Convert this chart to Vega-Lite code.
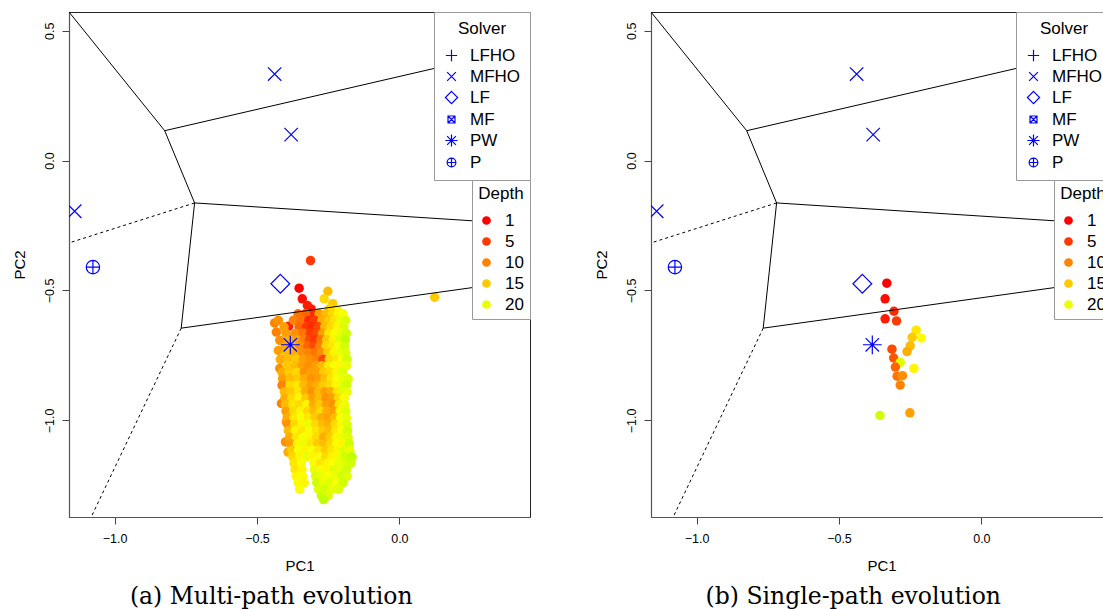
{
"$schema":"https://vega.github.io/schema/vega-lite/v6.json",
"background":"white",
"padding":{"left":11,"top":11,"right":0,"bottom":0},
"spacing":62,
"datasets":{
"solvers":[
{"x":-0.438,"y":0.333,"solver":"MFHO"},{"x":-0.380,"y":0.100,"solver":"MFHO"},{"x":-1.140,"y":-0.195,"solver":"MFHO"},
{"x":-1.076,"y":-0.410,"solver":"P"},{"x":-0.418,"y":-0.474,"solver":"LF"},{"x":-0.383,"y":-0.709,"solver":"PW"}],
"voronoi":[
{"x":-1.16,"y":0.572,"x2":-0.824,"y2":0.115,"kind":"solid"},
{"x":-0.824,"y":0.115,"x2":0.4586,"y2":0.44,"kind":"solid"},
{"x":-0.824,"y":0.115,"x2":-0.719,"y2":-0.163,"kind":"solid"},
{"x":-0.719,"y":-0.163,"x2":0.4586,"y2":-0.246,"kind":"solid"},
{"x":-0.719,"y":-0.163,"x2":-1.16,"y2":-0.317,"kind":"dashed"},
{"x":-0.719,"y":-0.163,"x2":-0.766,"y2":-0.645,"kind":"solid"},
{"x":-0.766,"y":-0.645,"x2":0.4586,"y2":-0.458,"kind":"solid"},
{"x":-0.766,"y":-0.645,"x2":-1.082,"y2":-1.372,"kind":"dashed"}],
"single":[
{"x":-0.332,"y":-0.472,"d":1},{"x":-0.338,"y":-0.532,"d":2},{"x":-0.307,"y":-0.580,"d":4},{"x":-0.338,"y":-0.609,"d":3},
{"x":-0.298,"y":-0.617,"d":5},{"x":-0.229,"y":-0.653,"d":17},{"x":-0.211,"y":-0.683,"d":19},{"x":-0.243,"y":-0.680,"d":15},
{"x":-0.250,"y":-0.713,"d":14},{"x":-0.261,"y":-0.735,"d":13},{"x":-0.314,"y":-0.726,"d":6},{"x":-0.308,"y":-0.760,"d":7},
{"x":-0.285,"y":-0.777,"d":21},{"x":-0.302,"y":-0.795,"d":8},{"x":-0.237,"y":-0.800,"d":18},{"x":-0.296,"y":-0.830,"d":9},
{"x":-0.277,"y":-0.828,"d":11},{"x":-0.285,"y":-0.864,"d":10},{"x":-0.356,"y":-0.981,"d":22},{"x":-0.251,"y":-0.971,"d":12}],
"multi":[
{"x":-0.312,"y":-0.385,"d":5},{"x":0.124,"y":-0.526,"d":15},
{"x":-0.352,"y":-0.491,"d":1},{"x":-0.341,"y":-0.532,"d":2},{"x":-0.323,"y":-0.558,"d":3},{"x":-0.310,"y":-0.571,"d":3},{"x":-0.301,"y":-0.590,"d":4},
{"x":-0.251,"y":-0.503,"d":14},{"x":-0.264,"y":-0.532,"d":16},{"x":-0.234,"y":-0.551,"d":15},{"x":-0.216,"y":-0.577,"d":18},{"x":-0.245,"y":-0.570,"d":16},
{"x":-0.438,"y":-0.625,"d":10},{"x":-0.432,"y":-0.660,"d":10},{"x":-0.420,"y":-0.692,"d":11},{"x":-0.425,"y":-0.731,"d":12},{"x":-0.389,"y":-0.638,"d":3},{"x":-0.420,"y":-0.800,"d":11},
{"x":-0.414,"y":-0.935,"d":10},{"x":-0.397,"y":-1.006,"d":12},{"x":-0.400,"y":-1.083,"d":11},{"x":-0.391,"y":-1.122,"d":13},
{"x":-0.356,"y":-0.59,"d":9},{"x":-0.330,"y":-0.59,"d":8},{"x":-0.282,"y":-0.59,"d":12},{"x":-0.258,"y":-0.59,"d":14},{"x":-0.236,"y":-0.59,"d":16},{"x":-0.214,"y":-0.59,"d":18},{"x":-0.198,"y":-0.59,"d":19},
{"x":-0.425,"y":-0.615,"d":11},{"x":-0.372,"y":-0.615,"d":10},{"x":-0.345,"y":-0.615,"d":9},{"x":-0.318,"y":-0.615,"d":4},{"x":-0.298,"y":-0.615,"d":5},{"x":-0.272,"y":-0.615,"d":13},{"x":-0.248,"y":-0.615,"d":15},{"x":-0.226,"y":-0.615,"d":17},{"x":-0.205,"y":-0.615,"d":20},{"x":-0.188,"y":-0.615,"d":21},
{"x":-0.405,"y":-0.64,"d":12},{"x":-0.352,"y":-0.64,"d":8},{"x":-0.326,"y":-0.64,"d":5},{"x":-0.305,"y":-0.64,"d":4},{"x":-0.285,"y":-0.64,"d":6},{"x":-0.262,"y":-0.64,"d":14},{"x":-0.240,"y":-0.64,"d":16},{"x":-0.218,"y":-0.64,"d":18},{"x":-0.195,"y":-0.64,"d":21},
{"x":-0.398,"y":-0.665,"d":12},{"x":-0.366,"y":-0.665,"d":11},{"x":-0.338,"y":-0.665,"d":9},{"x":-0.312,"y":-0.665,"d":5},{"x":-0.292,"y":-0.665,"d":6},{"x":-0.270,"y":-0.665,"d":12},{"x":-0.248,"y":-0.665,"d":17},{"x":-0.226,"y":-0.665,"d":19},{"x":-0.204,"y":-0.665,"d":20},{"x":-0.186,"y":-0.665,"d":22},
{"x":-0.390,"y":-0.69,"d":13},{"x":-0.362,"y":-0.69,"d":12},{"x":-0.335,"y":-0.69,"d":10},{"x":-0.316,"y":-0.69,"d":6},{"x":-0.298,"y":-0.69,"d":5},{"x":-0.276,"y":-0.69,"d":9},{"x":-0.256,"y":-0.69,"d":15},{"x":-0.232,"y":-0.69,"d":18},{"x":-0.210,"y":-0.69,"d":21},{"x":-0.190,"y":-0.69,"d":23},
{"x":-0.400,"y":-0.715,"d":13},{"x":-0.372,"y":-0.715,"d":14},{"x":-0.348,"y":-0.715,"d":11},{"x":-0.322,"y":-0.715,"d":8},{"x":-0.300,"y":-0.715,"d":6},{"x":-0.280,"y":-0.715,"d":10},{"x":-0.258,"y":-0.715,"d":16},{"x":-0.236,"y":-0.715,"d":17},{"x":-0.214,"y":-0.715,"d":19},{"x":-0.193,"y":-0.715,"d":22},
{"x":-0.396,"y":-0.74,"d":14},{"x":-0.368,"y":-0.74,"d":13},{"x":-0.340,"y":-0.74,"d":11},{"x":-0.318,"y":-0.74,"d":10},{"x":-0.296,"y":-0.74,"d":9},{"x":-0.274,"y":-0.74,"d":11},{"x":-0.252,"y":-0.74,"d":15},{"x":-0.230,"y":-0.74,"d":18},{"x":-0.208,"y":-0.74,"d":20},{"x":-0.188,"y":-0.74,"d":21},
{"x":-0.418,"y":-0.765,"d":13},{"x":-0.392,"y":-0.765,"d":14},{"x":-0.364,"y":-0.765,"d":15},{"x":-0.338,"y":-0.765,"d":12},{"x":-0.312,"y":-0.765,"d":11},{"x":-0.290,"y":-0.765,"d":10},{"x":-0.268,"y":-0.765,"d":6},{"x":-0.246,"y":-0.765,"d":16},{"x":-0.224,"y":-0.765,"d":17},{"x":-0.202,"y":-0.765,"d":19},{"x":-0.184,"y":-0.765,"d":22},
{"x":-0.394,"y":-0.79,"d":15},{"x":-0.366,"y":-0.79,"d":14},{"x":-0.342,"y":-0.79,"d":12},{"x":-0.318,"y":-0.79,"d":11},{"x":-0.294,"y":-0.79,"d":12},{"x":-0.272,"y":-0.79,"d":14},{"x":-0.250,"y":-0.79,"d":17},{"x":-0.228,"y":-0.79,"d":19},{"x":-0.206,"y":-0.79,"d":18},{"x":-0.186,"y":-0.79,"d":20},
{"x":-0.412,"y":-0.815,"d":13},{"x":-0.388,"y":-0.815,"d":15},{"x":-0.360,"y":-0.815,"d":16},{"x":-0.334,"y":-0.815,"d":11},{"x":-0.310,"y":-0.815,"d":12},{"x":-0.288,"y":-0.815,"d":12},{"x":-0.266,"y":-0.815,"d":15},{"x":-0.244,"y":-0.815,"d":16},{"x":-0.222,"y":-0.815,"d":18},{"x":-0.200,"y":-0.815,"d":21},
{"x":-0.410,"y":-0.84,"d":12},{"x":-0.384,"y":-0.84,"d":14},{"x":-0.358,"y":-0.84,"d":15},{"x":-0.332,"y":-0.84,"d":13},{"x":-0.308,"y":-0.84,"d":11},{"x":-0.284,"y":-0.84,"d":12},{"x":-0.262,"y":-0.84,"d":14},{"x":-0.240,"y":-0.84,"d":17},{"x":-0.218,"y":-0.84,"d":19},{"x":-0.196,"y":-0.84,"d":20},{"x":-0.180,"y":-0.84,"d":21},
{"x":-0.412,"y":-0.865,"d":10},{"x":-0.385,"y":-0.865,"d":16},{"x":-0.360,"y":-0.865,"d":17},{"x":-0.336,"y":-0.865,"d":14},{"x":-0.312,"y":-0.865,"d":12},{"x":-0.290,"y":-0.865,"d":13},{"x":-0.268,"y":-0.865,"d":15},{"x":-0.246,"y":-0.865,"d":16},{"x":-0.224,"y":-0.865,"d":18},{"x":-0.204,"y":-0.865,"d":20},{"x":-0.186,"y":-0.865,"d":22},
{"x":-0.404,"y":-0.89,"d":14},{"x":-0.380,"y":-0.89,"d":15},{"x":-0.354,"y":-0.89,"d":17},{"x":-0.330,"y":-0.89,"d":13},{"x":-0.306,"y":-0.89,"d":11},{"x":-0.284,"y":-0.89,"d":14},{"x":-0.262,"y":-0.89,"d":12},{"x":-0.240,"y":-0.89,"d":13},{"x":-0.218,"y":-0.89,"d":17},{"x":-0.198,"y":-0.89,"d":21},{"x":-0.184,"y":-0.89,"d":20},
{"x":-0.402,"y":-0.915,"d":13},{"x":-0.378,"y":-0.915,"d":16},{"x":-0.352,"y":-0.915,"d":18},{"x":-0.328,"y":-0.915,"d":15},{"x":-0.304,"y":-0.915,"d":12},{"x":-0.282,"y":-0.915,"d":14},{"x":-0.258,"y":-0.915,"d":11},{"x":-0.236,"y":-0.915,"d":12},{"x":-0.214,"y":-0.915,"d":16},{"x":-0.194,"y":-0.915,"d":19},
{"x":-0.400,"y":-0.94,"d":14},{"x":-0.374,"y":-0.94,"d":17},{"x":-0.350,"y":-0.94,"d":16},{"x":-0.326,"y":-0.94,"d":18},{"x":-0.302,"y":-0.94,"d":13},{"x":-0.280,"y":-0.94,"d":15},{"x":-0.256,"y":-0.94,"d":12},{"x":-0.232,"y":-0.94,"d":11},{"x":-0.212,"y":-0.94,"d":17},{"x":-0.192,"y":-0.94,"d":20},
{"x":-0.398,"y":-0.965,"d":12},{"x":-0.372,"y":-0.965,"d":16},{"x":-0.348,"y":-0.965,"d":18},{"x":-0.322,"y":-0.965,"d":16},{"x":-0.300,"y":-0.965,"d":14},{"x":-0.276,"y":-0.965,"d":16},{"x":-0.254,"y":-0.965,"d":13},{"x":-0.230,"y":-0.965,"d":12},{"x":-0.208,"y":-0.965,"d":18},{"x":-0.188,"y":-0.965,"d":21},
{"x":-0.394,"y":-0.99,"d":13},{"x":-0.370,"y":-0.99,"d":17},{"x":-0.344,"y":-0.99,"d":19},{"x":-0.320,"y":-0.99,"d":17},{"x":-0.296,"y":-0.99,"d":15},{"x":-0.274,"y":-0.99,"d":13},{"x":-0.250,"y":-0.99,"d":12},{"x":-0.228,"y":-0.99,"d":14},{"x":-0.206,"y":-0.99,"d":19},{"x":-0.186,"y":-0.99,"d":20},
{"x":-0.392,"y":-1.015,"d":11},{"x":-0.368,"y":-1.015,"d":16},{"x":-0.342,"y":-1.015,"d":18},{"x":-0.318,"y":-1.015,"d":20},{"x":-0.294,"y":-1.015,"d":16},{"x":-0.270,"y":-1.015,"d":14},{"x":-0.248,"y":-1.015,"d":13},{"x":-0.226,"y":-1.015,"d":16},{"x":-0.204,"y":-1.015,"d":18},{"x":-0.184,"y":-1.015,"d":21},
{"x":-0.390,"y":-1.04,"d":14},{"x":-0.366,"y":-1.04,"d":18},{"x":-0.340,"y":-1.04,"d":17},{"x":-0.316,"y":-1.04,"d":19},{"x":-0.292,"y":-1.04,"d":17},{"x":-0.268,"y":-1.04,"d":15},{"x":-0.246,"y":-1.04,"d":14},{"x":-0.224,"y":-1.04,"d":17},{"x":-0.202,"y":-1.04,"d":19},{"x":-0.182,"y":-1.04,"d":22},
{"x":-0.386,"y":-1.065,"d":13},{"x":-0.362,"y":-1.065,"d":17},{"x":-0.338,"y":-1.065,"d":19},{"x":-0.314,"y":-1.065,"d":18},{"x":-0.290,"y":-1.065,"d":16},{"x":-0.266,"y":-1.065,"d":13},{"x":-0.244,"y":-1.065,"d":15},{"x":-0.222,"y":-1.065,"d":18},{"x":-0.200,"y":-1.065,"d":20},{"x":-0.180,"y":-1.065,"d":21},
{"x":-0.382,"y":-1.09,"d":12},{"x":-0.358,"y":-1.09,"d":18},{"x":-0.334,"y":-1.09,"d":20},{"x":-0.310,"y":-1.09,"d":17},{"x":-0.288,"y":-1.09,"d":15},{"x":-0.264,"y":-1.09,"d":14},{"x":-0.242,"y":-1.09,"d":16},{"x":-0.220,"y":-1.09,"d":19},{"x":-0.198,"y":-1.09,"d":18},{"x":-0.176,"y":-1.09,"d":22},
{"x":-0.378,"y":-1.115,"d":15},{"x":-0.354,"y":-1.115,"d":19},{"x":-0.330,"y":-1.115,"d":18},{"x":-0.306,"y":-1.115,"d":19},{"x":-0.284,"y":-1.115,"d":17},{"x":-0.260,"y":-1.115,"d":15},{"x":-0.238,"y":-1.115,"d":17},{"x":-0.216,"y":-1.115,"d":18},{"x":-0.194,"y":-1.115,"d":21},{"x":-0.174,"y":-1.115,"d":20},
{"x":-0.374,"y":-1.14,"d":16},{"x":-0.350,"y":-1.14,"d":18},{"x":-0.326,"y":-1.14,"d":20},{"x":-0.304,"y":-1.14,"d":18},{"x":-0.280,"y":-1.14,"d":19},{"x":-0.258,"y":-1.14,"d":16},{"x":-0.236,"y":-1.14,"d":18},{"x":-0.212,"y":-1.14,"d":20},{"x":-0.190,"y":-1.14,"d":22},{"x":-0.166,"y":-1.14,"d":23},
{"x":-0.370,"y":-1.165,"d":17},{"x":-0.344,"y":-1.165,"d":19},{"x":-0.300,"y":-1.165,"d":19},{"x":-0.278,"y":-1.165,"d":17},{"x":-0.254,"y":-1.165,"d":18},{"x":-0.232,"y":-1.165,"d":19},{"x":-0.210,"y":-1.165,"d":20},{"x":-0.188,"y":-1.165,"d":21},{"x":-0.170,"y":-1.165,"d":22},
{"x":-0.366,"y":-1.19,"d":17},{"x":-0.342,"y":-1.19,"d":18},{"x":-0.298,"y":-1.19,"d":20},{"x":-0.274,"y":-1.19,"d":19},{"x":-0.250,"y":-1.19,"d":18},{"x":-0.228,"y":-1.19,"d":21},{"x":-0.206,"y":-1.19,"d":20},{"x":-0.186,"y":-1.19,"d":22},
{"x":-0.362,"y":-1.215,"d":18},{"x":-0.340,"y":-1.215,"d":19},{"x":-0.294,"y":-1.215,"d":21},{"x":-0.270,"y":-1.215,"d":20},{"x":-0.248,"y":-1.215,"d":19},{"x":-0.224,"y":-1.215,"d":20},{"x":-0.202,"y":-1.215,"d":22},{"x":-0.184,"y":-1.215,"d":21},
{"x":-0.356,"y":-1.24,"d":19},{"x":-0.334,"y":-1.24,"d":18},{"x":-0.290,"y":-1.24,"d":22},{"x":-0.266,"y":-1.24,"d":20},{"x":-0.242,"y":-1.24,"d":21},{"x":-0.220,"y":-1.24,"d":19},{"x":-0.198,"y":-1.24,"d":22},
{"x":-0.350,"y":-1.265,"d":19},{"x":-0.284,"y":-1.265,"d":21},{"x":-0.262,"y":-1.265,"d":22},{"x":-0.238,"y":-1.265,"d":20},{"x":-0.214,"y":-1.265,"d":21},
{"x":-0.274,"y":-1.29,"d":22},{"x":-0.250,"y":-1.29,"d":21},{"x":-0.266,"y":-1.305,"d":23}
]},
"resolve":{"scale":{"x":"independent","y":"independent","fill":"independent","color":"independent","shape":"independent"},"legend":{"fill":"independent","color":"independent","shape":"independent"}},
"hconcat":[
{"width":461,"height":505,
"title":{"text":"(a) Multi-path evolution","orient":"bottom","anchor":"middle","frame":"bounds","offset":11,"font":"DejaVu Serif","fontSize":23.5,"fontWeight":"normal","color":"#000"},
"layer":[
{"data":{"name":"solvers"},"transform":[{"filter":"datum.solver != 'PW'"}],"mark":{"type":"point","filled":false,"size":180,"strokeWidth":1.2,"opacity":1,"clip":true},
"encoding":{
"x":{"field":"x","type":"quantitative","title":"PC1","scale":{"domain":[-1.16,0.4586],"nice":false,"zero":false},"axis":{"values":[-1,-0.5,0],"format":".1f","grid":false,"tickSize":7,"labelPadding":8,"titlePadding":14}},
"y":{"field":"y","type":"quantitative","title":"PC2","scale":{"domain":[-1.372,0.572],"nice":false,"zero":false},"axis":{"values":[-1,-0.5,0,0.5],"format":".1f","grid":false,"tickSize":7,"labelAngle":-90,"labelAlign":"center","labelBaseline":"bottom","labelPadding":6,"titlePadding":16}},
"shape":{"field":"solver","type":"nominal","title":"Solver","scale":{"domain":["LFHO","MFHO","LF","MF","PW","P"],"range":["M-1.3,0L1.3,0M0,-1.3L0,1.3","M-1,-1L1,1M-1,1L1,-1","M0,-1.4L1.4,0L0,1.4L-1.4,0Z","M-0.8,-0.8L0.8,-0.8L0.8,0.8L-0.8,0.8ZM-0.8,-0.8L0.8,0.8M-0.8,0.8L0.8,-0.8","M-1.4,0L1.4,0M0,-1.4L0,1.4M-1,-1L1,1M-1,1L1,-1","M1,0A1,1,0,1,1,-1,0A1,1,0,1,1,1,0ZM-1,0L1,0M0,-1L0,1"]},"legend":{"orient":"top-right"}},
"color":{"field":"solver","type":"nominal","title":"Solver","scale":{"domain":["LFHO","MFHO","LF","MF","PW","P"],"range":["blue","blue","blue","blue","blue","blue"]},"legend":{"orient":"top-right"}}}},
{"data":{"name":"multi"},"mark":{"type":"circle","size":90,"opacity":1,"clip":true},
"encoding":{"x":{"field":"x","type":"quantitative"},"y":{"field":"y","type":"quantitative"},
"fill":{"field":"d","type":"quantitative","title":"Depth","scale":{"domain":[1,30],"range":["#ff0000","hsl(98.6,100%,50%)"],"interpolate":"hsl"},"legend":{"type":"symbol","values":[1,5,10,15,20],"symbolType":"circle","symbolSize":76,"symbolStrokeWidth":0,"orient":"none","legendX":403,"legendY":168,"padding":6}}}},
{"data":{"name":"voronoi"},"transform":[{"filter":"datum.kind == 'solid'"}],"mark":{"type":"rule","color":"black","strokeWidth":1,"clip":true},
"encoding":{"x":{"field":"x","type":"quantitative"},"y":{"field":"y","type":"quantitative"},"x2":{"field":"x2"},"y2":{"field":"y2"}}},
{"data":{"name":"voronoi"},"transform":[{"filter":"datum.kind == 'dashed'"}],"mark":{"type":"rule","color":"black","strokeWidth":1,"strokeDash":[3,3],"clip":true},
"encoding":{"x":{"field":"x","type":"quantitative"},"y":{"field":"y","type":"quantitative"},"x2":{"field":"x2"},"y2":{"field":"y2"}}},
{"data":{"name":"solvers"},"transform":[{"filter":"datum.solver == 'PW'"}],"mark":{"type":"point","filled":false,"size":180,"strokeWidth":1.2,"opacity":1,"clip":true},
"encoding":{"x":{"field":"x","type":"quantitative"},"y":{"field":"y","type":"quantitative"},
"shape":{"field":"solver","type":"nominal","title":"Solver"},
"color":{"field":"solver","type":"nominal","title":"Solver"}}}
]},
{"width":461,"height":505,
"title":{"text":"(b) Single-path evolution","orient":"bottom","anchor":"middle","frame":"bounds","offset":11,"font":"DejaVu Serif","fontSize":23.5,"fontWeight":"normal","color":"#000"},
"layer":[
{"data":{"name":"solvers"},"transform":[{"filter":"datum.solver != 'PW'"}],"mark":{"type":"point","filled":false,"size":180,"strokeWidth":1.2,"opacity":1,"clip":true},
"encoding":{
"x":{"field":"x","type":"quantitative","title":"PC1","scale":{"domain":[-1.16,0.4586],"nice":false,"zero":false},"axis":{"values":[-1,-0.5,0],"format":".1f","grid":false,"tickSize":7,"labelPadding":8,"titlePadding":14}},
"y":{"field":"y","type":"quantitative","title":"PC2","scale":{"domain":[-1.372,0.572],"nice":false,"zero":false},"axis":{"values":[-1,-0.5,0,0.5],"format":".1f","grid":false,"tickSize":7,"labelAngle":-90,"labelAlign":"center","labelBaseline":"bottom","labelPadding":6,"titlePadding":16}},
"shape":{"field":"solver","type":"nominal","title":"Solver","scale":{"domain":["LFHO","MFHO","LF","MF","PW","P"],"range":["M-1.3,0L1.3,0M0,-1.3L0,1.3","M-1,-1L1,1M-1,1L1,-1","M0,-1.4L1.4,0L0,1.4L-1.4,0Z","M-0.8,-0.8L0.8,-0.8L0.8,0.8L-0.8,0.8ZM-0.8,-0.8L0.8,0.8M-0.8,0.8L0.8,-0.8","M-1.4,0L1.4,0M0,-1.4L0,1.4M-1,-1L1,1M-1,1L1,-1","M1,0A1,1,0,1,1,-1,0A1,1,0,1,1,1,0ZM-1,0L1,0M0,-1L0,1"]},"legend":{"orient":"top-right"}},
"color":{"field":"solver","type":"nominal","title":"Solver","scale":{"domain":["LFHO","MFHO","LF","MF","PW","P"],"range":["blue","blue","blue","blue","blue","blue"]},"legend":{"orient":"top-right"}}}},
{"data":{"name":"single"},"mark":{"type":"circle","size":90,"opacity":1,"clip":true},
"encoding":{"x":{"field":"x","type":"quantitative"},"y":{"field":"y","type":"quantitative"},
"fill":{"field":"d","type":"quantitative","title":"Depth","scale":{"domain":[1,30],"range":["#ff0000","hsl(98.6,100%,50%)"],"interpolate":"hsl"},"legend":{"type":"symbol","values":[1,5,10,15,20],"symbolType":"circle","symbolSize":76,"symbolStrokeWidth":0,"orient":"none","legendX":403,"legendY":168,"padding":6}}}},
{"data":{"name":"voronoi"},"transform":[{"filter":"datum.kind == 'solid'"}],"mark":{"type":"rule","color":"black","strokeWidth":1,"clip":true},
"encoding":{"x":{"field":"x","type":"quantitative"},"y":{"field":"y","type":"quantitative"},"x2":{"field":"x2"},"y2":{"field":"y2"}}},
{"data":{"name":"voronoi"},"transform":[{"filter":"datum.kind == 'dashed'"}],"mark":{"type":"rule","color":"black","strokeWidth":1,"strokeDash":[3,3],"clip":true},
"encoding":{"x":{"field":"x","type":"quantitative"},"y":{"field":"y","type":"quantitative"},"x2":{"field":"x2"},"y2":{"field":"y2"}}},
{"data":{"name":"solvers"},"transform":[{"filter":"datum.solver == 'PW'"}],"mark":{"type":"point","filled":false,"size":180,"strokeWidth":1.2,"opacity":1,"clip":true},
"encoding":{"x":{"field":"x","type":"quantitative"},"y":{"field":"y","type":"quantitative"},
"shape":{"field":"solver","type":"nominal","title":"Solver"},
"color":{"field":"solver","type":"nominal","title":"Solver"}}}
]}
],
"config":{
"view":{"stroke":"#222","strokeWidth":1},
"axis":{"labelFont":"Liberation Sans","labelFontSize":12.5,"labelColor":"#000","titleFont":"Liberation Sans","titleFontSize":15,"titleFontWeight":"normal","titleColor":"#000","tickColor":"#444","domainColor":"#555","domainWidth":1.2},
"legend":{"offset":0,"padding":9,"strokeColor":"#999","fillColor":"white","titleFont":"Liberation Sans","titleFontSize":17,"titleFontWeight":"normal","titleColor":"#000","titleAnchor":"middle","titlePadding":9,"labelFont":"Liberation Sans","labelFontSize":17,"labelColor":"#000","labelOffset":10,"rowPadding":3,"symbolStrokeWidth":1.2,"symbolSize":76,"symbolFillColor":"transparent"}
}
}
